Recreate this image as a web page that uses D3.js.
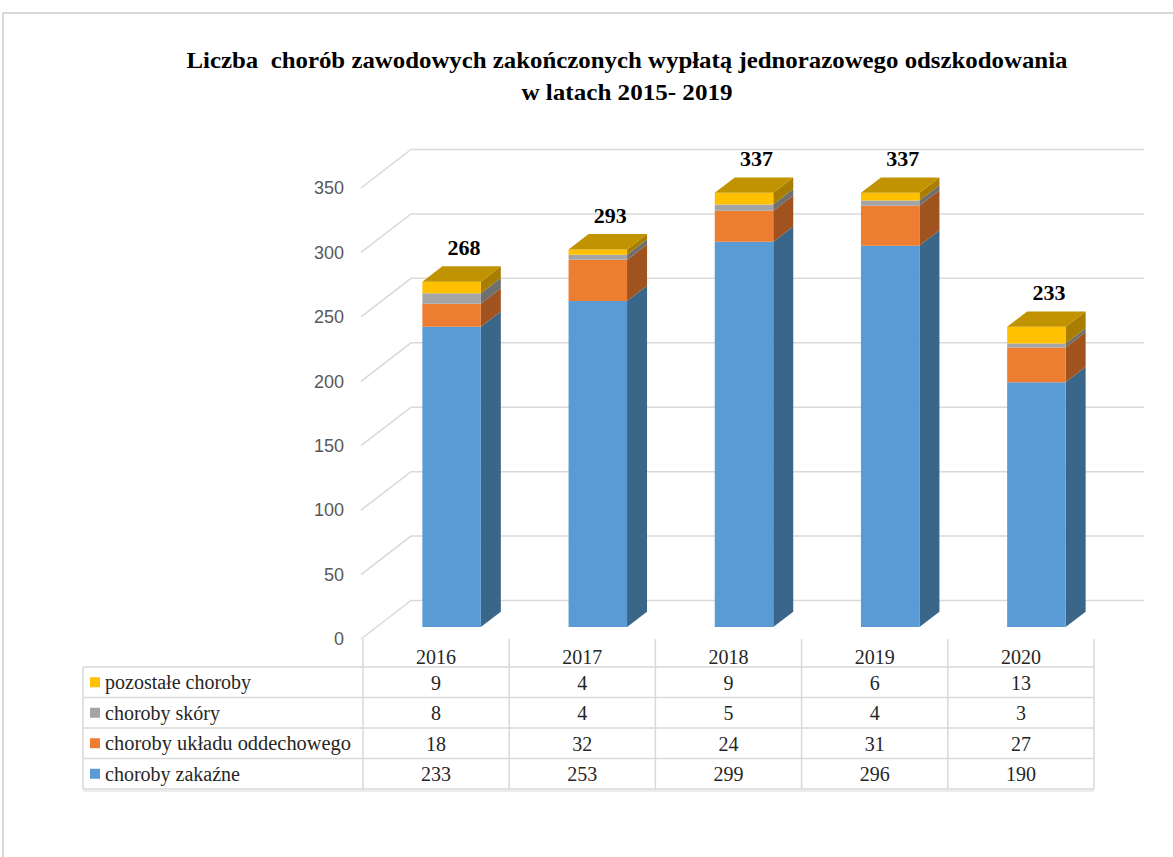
<!DOCTYPE html>
<html>
<head>
<meta charset="utf-8">
<script src="https://cdn.jsdelivr.net/npm/d3@7"></script>
<style>
  body { margin: 0; background: #fff; }
  svg { display: block; }
</style>
</head>
<body>
<svg id="chart" width="1173" height="857"></svg>
<script>
const years = ['2016', '2017', '2018', '2019', '2020']
// bottom to top of the stack
const series = ['choroby zakaźne', 'choroby układu oddechowego', 'choroby skóry', 'pozostałe choroby']
const zakazne = [233, 253, 299, 296, 190]
const oddechowe = [18, 32, 24, 31, 27]
const skory = [8, 4, 5, 4, 3]
const pozostale = [9, 4, 9, 6, 13]
const totals = [268, 293, 337, 337, 233]
const yTicks = [0, 50, 100, 150, 200, 250, 300, 350]

const values = [zakazne, oddechowe, skory, pozostale]
const front = ['#5b9bd5', '#ed7d31', '#a5a5a5', '#ffc000']
const side = ['#3a6689', '#a0521f', '#6f6f6f', '#a87d00']
const topFace = '#c29300'

const svg = d3.select('#chart')
const serif = '"Liberation Serif", "Times New Roman", serif'

// frame
svg.append('path')
  .attr('d', 'M3,857 V13 H1173')
  .attr('fill', 'none')
  .attr('stroke', '#d9d9d9')
  .attr('stroke-width', 2)

// title
const title = svg.append('g')
  .attr('font-family', serif)
  .attr('font-weight', 'bold')
  .attr('font-size', 24)
  .attr('fill', '#000')
  .attr('text-anchor', 'middle')
title.append('text')
  .attr('x', 627).attr('y', 68)
  .attr('textLength', 881).attr('lengthAdjust', 'spacingAndGlyphs')
  .attr('xml:space', 'preserve')
  .text('Liczba  chorób zawodowych zakończonych wypłatą jednorazowego odszkodowania')
title.append('text')
  .attr('x', 627).attr('y', 100)
  .attr('textLength', 211).attr('lengthAdjust', 'spacingAndGlyphs')
  .text('w latach 2015- 2019')

// 3d projection
const DX = 50
const DY = -38.5
const x = d3.scaleBand().domain(years).range([363, 1094])
const y = d3.scaleLinear().domain([0, 350]).range([639, 188])
const proj = (px, v, z) => [px + z * DX, y(v) + z * DY]
const z1 = 0.31
const z2 = 0.71
const barW = x.bandwidth() * 0.4

// gridlines
const xL = 361
const xR = 1094
svg.append('g').selectAll('path')
  .data(yTicks)
  .join('path')
  .attr('d', d => d3.line()([[xL, y(d)], proj(xL, d, 1), proj(xR, d, 1)]))
  .attr('fill', 'none')
  .attr('stroke', '#d9d9d9')
  .attr('stroke-width', 1.5)

// y axis labels
const yAxis = svg.append('g')
  .attr('transform', `translate(${xL},0)`)
  .call(d3.axisLeft(y).tickValues(yTicks).tickSize(0).tickPadding(17))
yAxis.select('.domain').remove()
yAxis.selectAll('text')
  .attr('font-family', '"Liberation Sans", Arial, sans-serif')
  .attr('font-size', 18)
  .attr('fill', '#595959')

// bars
const poly = pts => d3.line()(pts) + 'Z'
const bars = svg.append('g')
years.forEach((yr, i) => {
  const left = x(yr) + (x.bandwidth() - barW) / 2
  const right = left + barW
  let base = 0
  values.forEach((vals, s) => {
    const v0 = base
    const v1 = base + vals[i]
    base = v1
    const isTop = s === values.length - 1
    bars.append('path')
      .attr('d', poly([proj(right, v0, z1), proj(right, v0, z2), proj(right, v1, z2), proj(right, v1, z1)]))
      .attr('fill', side[s])
    bars.append('path')
      .attr('d', poly([proj(left, v0, z1), proj(right, v0, z1), proj(right, v1, z1), proj(left, v1, z1)]))
      .attr('fill', front[s])
    if (isTop) {
      bars.append('path')
        .attr('d', poly([proj(left, v1, z1), proj(right, v1, z1), proj(right, v1, z2), proj(left, v1, z2)]))
        .attr('fill', topFace)
    }
  })
})

// total labels
svg.append('g').selectAll('text')
  .data(years)
  .join('text')
  .attr('x', (d, i) => proj(x(d) + x.bandwidth() / 2, totals[i], 0.56)[0])
  .attr('y', (d, i) => proj(0, totals[i], z2)[1] - 11)
  .attr('text-anchor', 'middle')
  .attr('font-family', serif)
  .attr('font-weight', 'bold')
  .attr('font-size', 22)
  .attr('fill', '#000')
  .text((d, i) => totals[i])

// data table
const rows = series.slice().reverse()
const rowVals = values.slice().reverse()
const rowCol = front.slice().reverse()
const r = d3.scaleBand().domain(rows).range([667, 789])
const tLeft = 83
const table = svg.append('g')
const lineColor = '#d9d9d9'

table.append('line')
  .attr('x1', tLeft).attr('x2', xR).attr('y1', 791).attr('y2', 791)
  .attr('stroke', '#ececec').attr('stroke-width', 2)
table.selectAll('line.h')
  .data(rows.map(d => r(d)).concat([789]))
  .join('line')
  .attr('class', 'h')
  .attr('x1', tLeft).attr('x2', xR)
  .attr('y1', d => d).attr('y2', d => d)
  .attr('stroke', lineColor).attr('stroke-width', 1.5)
table.selectAll('line.v')
  .data(years.map(d => x(d)).concat([xR]))
  .join('line')
  .attr('class', 'v')
  .attr('x1', d => d).attr('x2', d => d)
  .attr('y1', 639).attr('y2', 789)
  .attr('stroke', lineColor).attr('stroke-width', 1.5)
table.append('line')
  .attr('x1', tLeft).attr('x2', tLeft).attr('y1', 667).attr('y2', 789)
  .attr('stroke', lineColor).attr('stroke-width', 1.5)

const tText = table.append('g')
  .attr('font-family', serif)
  .attr('font-size', 20)
  .attr('fill', '#262626')

tText.selectAll('text.year')
  .data(years)
  .join('text')
  .attr('class', 'year')
  .attr('x', d => x(d) + x.bandwidth() / 2)
  .attr('y', 664)
  .attr('text-anchor', 'middle')
  .text(d => d)

rows.forEach((name, ri) => {
  const cy = r(name) + r.bandwidth() / 2
  table.append('rect')
    .attr('x', 90).attr('y', cy - 5)
    .attr('width', 10).attr('height', 10)
    .attr('fill', rowCol[ri])
  tText.append('text')
    .attr('x', 105).attr('y', cy + 7)
    .attr('textLength', 246).attr('lengthAdjust', 'spacingAndGlyphs')
    .attr('textLength', name === 'choroby układu oddechowego' ? 246 : null)
    .text(name)
  tText.selectAll(null)
    .data(rowVals[ri])
    .join('text')
    .attr('x', (d, i) => x(years[i]) + x.bandwidth() / 2)
    .attr('y', cy + 7.5)
    .attr('text-anchor', 'middle')
    .text(d => d)
})
</script>
</body>
</html>
